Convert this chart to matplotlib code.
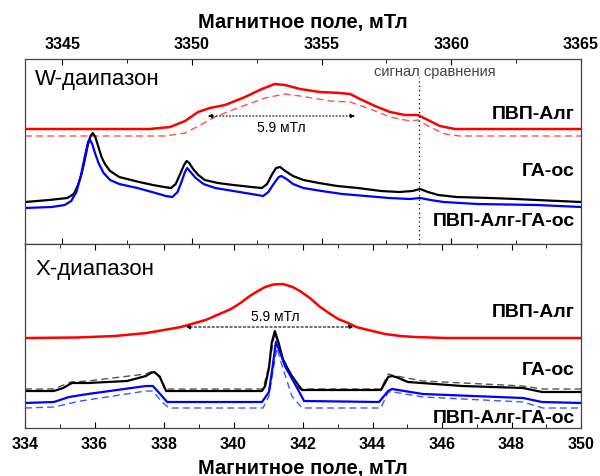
import matplotlib
matplotlib.use("Agg")
import matplotlib.pyplot as plt
from matplotlib.ticker import MultipleLocator

plt.rcParams["font.family"] = ["Liberation Sans", "DejaVu Sans"]

# ---- W-band (top panel), field in mT, intensity in arb. units ----
w_red_x = [3343.57, 3348.39, 3349.16, 3349.74, 3350.24, 3350.7, 3351.28, 3352.05, 3352.7,
           3353.2, 3353.59, 3354.17, 3354.94, 3355.71, 3356.1, 3356.48, 3357.06, 3357.64,
           3358.21, 3358.71, 3359.1, 3359.56, 3360.14, 3365.0]
w_red_y = [115, 115, 117, 123, 132, 136, 139, 147, 155, 160, 159, 155, 152, 151, 150, 145,
           138, 132, 129, 129, 124, 118, 115, 115]

w_red_fit_x = [3343.57, 3348.97, 3349.74, 3350.33, 3350.89, 3351.86, 3352.82, 3353.59, 3354.17,
               3355.33, 3356.1, 3356.87, 3357.64, 3358.41, 3358.71, 3359.18, 3359.75, 3360.33, 3365.0]
w_red_fit_y = [108, 108, 111, 119, 127, 137, 146, 150, 148, 143, 142, 135, 127, 123, 124, 117,
               110, 108, 108]

w_ga_x = [3343.57, 3344.5, 3345.2, 3345.45, 3345.6, 3345.75, 3345.88, 3346.0, 3346.1, 3346.18,
          3346.28, 3346.4, 3346.52, 3346.65, 3346.85, 3347.2, 3347.97, 3348.5, 3348.93, 3349.2,
          3349.38, 3349.55, 3349.7, 3349.8, 3349.9, 3350.05, 3350.25, 3350.5, 3351.0, 3351.6,
          3352.3, 3352.7, 3352.9, 3353.1, 3353.25, 3353.4, 3353.6, 3353.9, 3354.3, 3354.9,
          3355.6, 3356.4, 3357.3, 3358.0, 3358.5, 3358.8, 3359.1, 3359.5, 3360.2, 3361.5,
          3362.5, 3363.3, 3365.0]
w_ga_y = [42, 44, 46, 50, 58, 70, 85, 100, 108, 111, 107, 97, 87, 80, 73, 67, 62, 59, 57, 56,
          60, 70, 79, 83, 81, 75, 69, 64, 61, 59, 57, 56, 60, 70, 76, 77, 73, 68, 64, 61, 58,
          56, 53, 52, 53, 55, 52, 49, 47, 46, 45, 44, 42]

w_blue_x = [3343.57, 3344.6, 3345.1, 3345.35, 3345.55, 3345.72, 3345.88, 3346.0, 3346.06,
            3346.16, 3346.28, 3346.42, 3346.6, 3346.85, 3347.2, 3347.9, 3348.6, 3349.0, 3349.25,
            3349.45, 3349.6, 3349.72, 3349.82, 3349.95, 3350.15, 3350.45, 3350.9, 3351.6,
            3352.3, 3352.75, 3352.95, 3353.15, 3353.35, 3353.45, 3353.65, 3353.9, 3354.3,
            3355.0, 3355.8, 3356.7, 3357.6, 3358.4, 3358.8, 3359.2, 3359.7, 3361.0, 3363.3, 3365.0]
w_blue_y = [36, 37, 39, 43, 52, 68, 88, 102, 105, 100, 90, 80, 71, 64, 60, 56, 51, 48, 47, 52,
            62, 71, 76, 72, 66, 60, 56, 53, 50, 48, 52, 60, 67, 68, 65, 60, 56, 53, 50, 48, 46,
            45, 46, 44, 42, 40, 39, 37]

w_ref_field = 3358.75
w_width = (3350.5, 3356.4)

# ---- X-band (bottom panel) ----
x_red_x = [334.0, 335.5, 336.59, 337.5, 338.49, 339.2, 339.93, 340.2, 340.47, 340.7, 340.91,
           341.15, 341.42, 341.7, 341.91, 342.2, 342.46, 342.7, 343.01, 343.3, 343.53, 344.0,
           344.36, 344.8, 345.22, 346.12, 350.0]
x_red_y = [90, 90.5, 92, 95, 101, 108, 119, 125, 132, 137, 141, 143.5, 144, 141, 137, 130,
           122, 116, 109, 105, 101, 97, 94, 92, 91, 90, 90]

x_ga_x = [334.0, 334.83, 335.1, 335.35, 335.81, 336.94, 337.48, 337.62, 337.72, 337.88, 338.06,
          340.82, 340.91, 341.02, 341.1, 341.19, 341.3, 341.42, 341.55, 341.68, 341.97, 344.24,
          344.36, 344.45, 344.55, 344.68, 345.02, 346.58, 348.33, 348.88, 350.0]
x_ga_y = [37, 37, 40, 45, 45, 47, 52, 55, 56, 51, 37, 37, 42, 60, 85, 97, 85, 69, 60, 52, 38,
          38, 45, 51, 52, 51, 46, 42, 40, 36, 36]

x_ga_fit_x = [334.0, 334.83, 335.32, 335.81, 337.48, 337.68, 337.88, 338.02, 340.85, 341.02,
              341.19, 341.35, 341.6, 341.9, 344.24, 344.45, 344.68, 345.45, 348.33, 348.88, 350.0]
x_ga_fit_y = [39, 39, 46, 47, 54, 57, 52, 39, 39, 62, 95, 75, 55, 39, 39, 54, 52, 47, 42, 39, 39]

x_blue_x = [334.0, 334.83, 335.27, 335.81, 337.48, 337.68, 337.94, 338.09, 340.82, 341.02,
            341.12, 341.22, 341.35, 341.48, 341.8, 342.03, 344.19, 344.45, 344.56, 345.45,
            348.33, 348.88, 350.0]
x_blue_y = [25, 26, 31, 34, 42, 42, 32, 26, 26, 36, 60, 86, 75, 62, 42, 27, 26, 37, 39, 34,
            30, 26, 25]

x_blue_fit_x = [334.0, 334.83, 335.6, 337.48, 337.68, 337.94, 338.15, 340.85, 341.02, 341.15,
                341.25, 341.4, 341.68, 341.97, 344.24, 344.45, 344.6, 345.45, 348.33, 348.9, 350.0]
x_blue_fit_y = [20, 21, 27, 37, 37, 26, 20, 20, 32, 60, 80, 62, 32, 20, 20, 36, 36, 31, 26,
                20, 20]

x_width = (338.55, 343.53)

fig = plt.figure(figsize=(6.0, 4.77), dpi=100)
ax_w = fig.add_axes([25 / 600, 1 - 245 / 477, 556 / 600, 185 / 477])
ax_x = fig.add_axes([25 / 600, 1 - 429 / 477, 556 / 600, 184 / 477])

lbl_font = dict(fontsize=14, fontweight="bold")

# top panel
ax_w.plot(w_red_fit_x, w_red_fit_y, color="#ff5050", lw=1.0, ls=(0, (5, 3)))
ax_w.plot(w_red_x, w_red_y, color="#ff0000", lw=1.8)
ax_w.plot(w_ga_x, w_ga_y, color="black", lw=1.6)
ax_w.plot(w_blue_x, w_blue_y, color="#0000ff", lw=1.6)
ax_w.plot([w_ref_field, w_ref_field], [0, 167], color="black", lw=0.9, ls=(0, (1, 2.5)))
ax_w.text(w_ref_field + 0.6, 173, "сигнал сравнения", fontsize=10.5, color="#444444",
          ha="center", va="center")
ax_w.annotate("", xy=(w_width[0], 128), xytext=(w_width[1], 128),
              arrowprops=dict(arrowstyle="<|-|>", lw=0.8, ls=(0, (1, 2)), color="black", mutation_scale=7))
ax_w.text(sum(w_width) / 2, 117, "5.9 мТл", fontsize=10, ha="center", va="center")
ax_w.text(3343.95, 165, "W-даипазон", fontsize=16, ha="left", va="center")
ax_w.text(3364.77, 130, "ПВП-Алг", ha="right", va="center", **lbl_font)
ax_w.text(3364.77, 73, "ГА-ос", ha="right", va="center", **lbl_font)
ax_w.text(3364.77, 23, "ПВП-Алг-ГА-ос", ha="right", va="center", **lbl_font)
ax_w.set_xlim(3343.57, 3365)
ax_w.set_ylim(0, 185)
ax_w.xaxis.set_major_locator(MultipleLocator(5))
ax_w.xaxis.set_minor_locator(MultipleLocator(2.5))
ax_w.tick_params(axis="x", which="both", direction="in", top=True, bottom=True,
                 labeltop=True, labelbottom=False, labelsize=11.5, pad=6)
ax_w.tick_params(axis="x", which="major", length=4)
ax_w.tick_params(axis="x", which="minor", length=3)
ax_w.set_yticks([])
ax_w.xaxis.set_label_position("top")
ax_w.set_xlabel("Магнитное поле, мТл", fontsize=14.5, fontweight="bold", labelpad=6)

# bottom panel
ax_x.plot(x_red_x, x_red_y, color="#ff0000", lw=1.8)
ax_x.plot(x_ga_fit_x, x_ga_fit_y, color="#555555", lw=1.0, ls=(0, (5, 3)))
ax_x.plot(x_blue_fit_x, x_blue_fit_y, color="#3a5cff", lw=1.0, ls=(0, (5, 3)))
ax_x.plot(x_ga_x, x_ga_y, color="black", lw=1.6)
ax_x.plot(x_blue_x, x_blue_y, color="#0000ff", lw=1.6)
ax_x.annotate("", xy=(x_width[0], 101), xytext=(x_width[1], 101),
              arrowprops=dict(arrowstyle="<|-|>", lw=0.8, ls=(0, (2, 2)), color="black", mutation_scale=6))
ax_x.text(341.2, 112, "5.9 мТл", fontsize=10, ha="center", va="center")
ax_x.text(334.29, 159, "X-диапазон", fontsize=16, ha="left", va="center")
ax_x.text(349.83, 116, "ПВП-Алг", ha="right", va="center", **lbl_font)
ax_x.text(349.83, 58, "ГА-ос", ha="right", va="center", **lbl_font)
ax_x.text(349.83, 10, "ПВП-Алг-ГА-ос", ha="right", va="center", **lbl_font)
ax_x.set_xlim(334, 350)
ax_x.set_ylim(0, 184)
ax_x.xaxis.set_major_locator(MultipleLocator(2))
ax_x.xaxis.set_minor_locator(MultipleLocator(1))
ax_x.tick_params(axis="x", which="both", direction="in", top=True, bottom=True,
                 labelsize=11.5, pad=6)
ax_x.tick_params(axis="x", which="major", length=4)
ax_x.tick_params(axis="x", which="minor", length=3)
ax_x.set_yticks([])
ax_x.set_xlabel("Магнитное поле, мТл", fontsize=14.5, fontweight="bold", labelpad=5)

for ax in (ax_w, ax_x):
    for lab in ax.get_xticklabels():
        lab.set_fontweight("bold")
    for sp in ax.spines.values():
        sp.set_color("#444444")
        sp.set_linewidth(0.9)

fig.savefig("out.png", dpi=100)
